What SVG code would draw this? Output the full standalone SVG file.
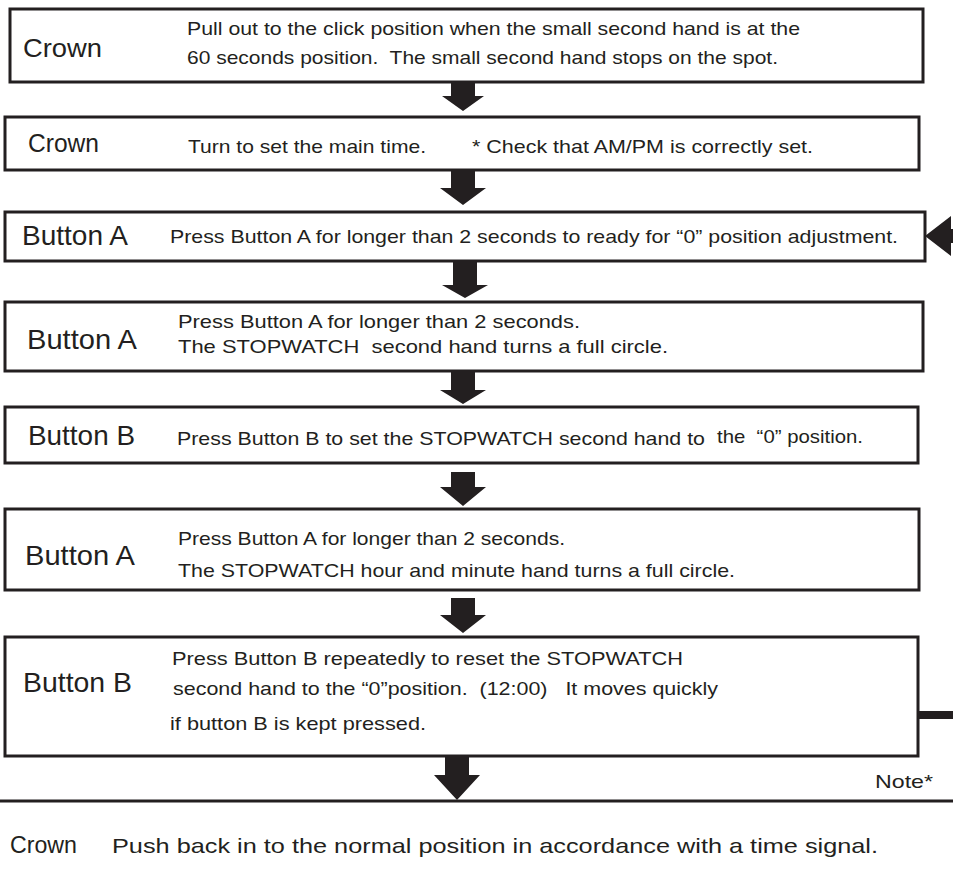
<svg xmlns="http://www.w3.org/2000/svg" width="953" height="870" viewBox="0 0 953 870">
<style>
.box{fill:#fff;stroke:#231f20;stroke-width:3}
.lbl{font-family:"Liberation Sans",Arial,sans-serif;font-size:26px;fill:#231f20}
.txt{font-family:"Liberation Sans",Arial,sans-serif;font-size:19px;fill:#231f20;white-space:pre}
.arr{fill:#231f20}
</style>
<rect width="953" height="870" fill="#fff"/>
<g id="step1">
<rect class="box" x="10" y="9" width="913" height="73"/>
<text class="lbl" x="23" y="57" textLength="79" lengthAdjust="spacingAndGlyphs">Crown</text>
<text class="txt" x="187" y="35" textLength="613" lengthAdjust="spacingAndGlyphs">Pull out to the click position when the small second hand is at the</text>
<text class="txt" x="187" y="64" textLength="591" lengthAdjust="spacingAndGlyphs">60 seconds position.  The small second hand stops on the spot.</text>
</g>
<g id="step2">
<rect class="box" x="5" y="117" width="914" height="53"/>
<text class="lbl" x="28" y="152" textLength="71" lengthAdjust="spacingAndGlyphs">Crown</text>
<text class="txt" x="188" y="153" textLength="238" lengthAdjust="spacingAndGlyphs">Turn to set the main time.</text>
<text class="txt" x="472" y="153" textLength="341" lengthAdjust="spacingAndGlyphs">* Check that AM/PM is correctly set.</text>
</g>
<g id="step3">
<rect class="box" x="5" y="212" width="920" height="49"/>
<text class="lbl" x="22" y="245" style="font-size:28px" textLength="106" lengthAdjust="spacingAndGlyphs">Button A</text>
<text class="txt" x="170" y="243" textLength="728" lengthAdjust="spacingAndGlyphs">Press Button A for longer than 2 seconds to ready for “0” position adjustment.</text>
</g>
<g id="step4">
<rect class="box" x="5" y="302" width="918" height="69"/>
<text class="lbl" x="27" y="349" style="font-size:28px" textLength="110" lengthAdjust="spacingAndGlyphs">Button A</text>
<text class="txt" x="178" y="328" textLength="402" lengthAdjust="spacingAndGlyphs">Press Button A for longer than 2 seconds.</text>
<text class="txt" x="178" y="353" textLength="490" lengthAdjust="spacingAndGlyphs">The STOPWATCH  second hand turns a full circle.</text>
</g>
<g id="step5">
<rect class="box" x="5" y="407" width="913" height="56"/>
<text class="lbl" x="28" y="445" style="font-size:28px" textLength="107" lengthAdjust="spacingAndGlyphs">Button B</text>
<text class="txt" x="177" y="445" textLength="528" lengthAdjust="spacingAndGlyphs">Press Button B to set the STOPWATCH second hand to</text>
<text class="txt" x="717" y="443" textLength="146" lengthAdjust="spacingAndGlyphs">the  “0” position.</text>
</g>
<g id="step6">
<rect class="box" x="5" y="509" width="914" height="81"/>
<text class="lbl" x="25" y="565" style="font-size:28px" textLength="110" lengthAdjust="spacingAndGlyphs">Button A</text>
<text class="txt" x="178" y="545" textLength="387" lengthAdjust="spacingAndGlyphs">Press Button A for longer than 2 seconds.</text>
<text class="txt" x="178" y="577" textLength="557" lengthAdjust="spacingAndGlyphs">The STOPWATCH hour and minute hand turns a full circle.</text>
</g>
<g id="step7">
<rect class="box" x="5" y="637" width="913" height="119"/>
<text class="lbl" x="23" y="692" style="font-size:28px" textLength="109" lengthAdjust="spacingAndGlyphs">Button B</text>
<text class="txt" x="172" y="665" textLength="511" lengthAdjust="spacingAndGlyphs">Press Button B repeatedly to reset the STOPWATCH</text>
<text class="txt" x="173" y="695" textLength="545" lengthAdjust="spacingAndGlyphs">second hand to the “0”position.  (12:00)   It moves quickly</text>
<text class="txt" x="170" y="730" textLength="256" lengthAdjust="spacingAndGlyphs">if button B is kept pressed.</text>
</g>
<g id="note">
<text class="txt" x="875" y="788" textLength="58" lengthAdjust="spacingAndGlyphs">Note*</text>
</g>
<g id="step8">
<text class="lbl" x="10" y="853" style="font-size:24px" textLength="67" lengthAdjust="spacingAndGlyphs">Crown</text>
<text class="txt" x="112" y="853" style="font-size:21px" textLength="766" lengthAdjust="spacingAndGlyphs">Push back in to the normal position in accordance with a time signal.</text>
</g>
<g id="connectors">
<path class="arr" d="M451 82H475V96H484L463 111L442 96H451Z"/>
<path class="arr" d="M451 170H475V188H486L463 205L440 188H451Z"/>
<path class="arr" d="M453 262H477V285H488L465 298L442 285H453Z"/>
<path class="arr" d="M451 371H475V390H486L463 404L440 390H451Z"/>
<path class="arr" d="M451 472H475V487H486L463 506L440 487H451Z"/>
<path class="arr" d="M451 598H475V615H486L463 633L440 615H451Z"/>
<path class="arr" d="M445 756H469V775H480L457 800L434 775H445Z"/>
<path class="arr" d="M925 236L951 216V229H953V243H951V256Z"/>
<line x1="918" y1="715" x2="953" y2="715" stroke="#231f20" stroke-width="8"/>
<line x1="0" y1="801" x2="953" y2="801" stroke="#231f20" stroke-width="3"/>
</g>
</svg>
